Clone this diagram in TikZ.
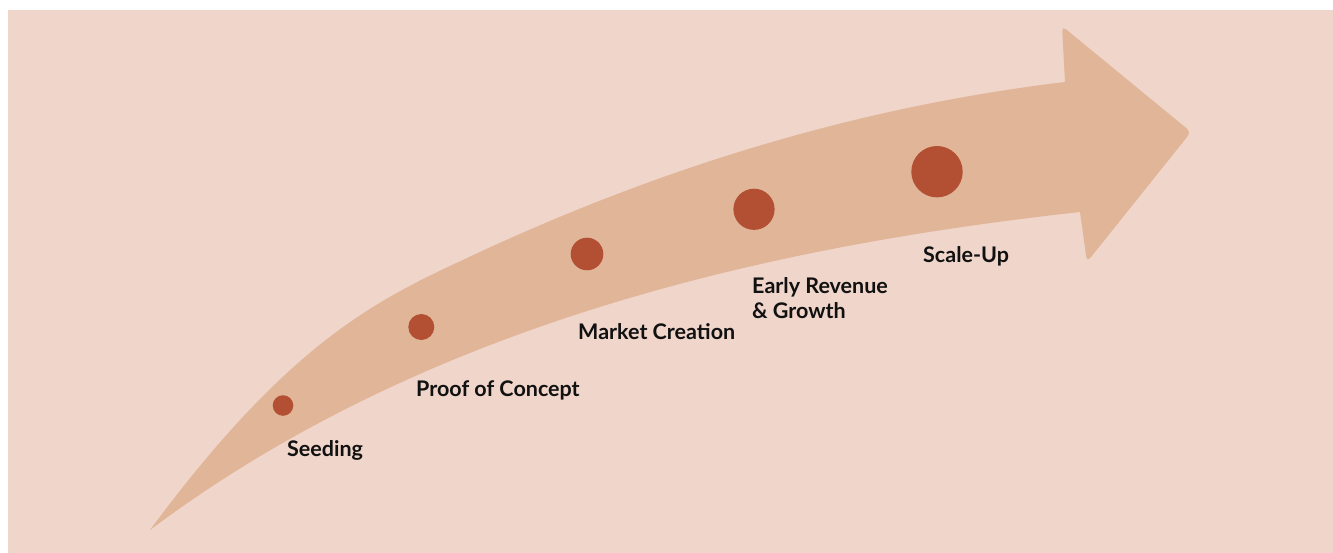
\documentclass[tikz,border=0pt]{standalone}
\usepackage{fontspec}
\setmainfont{Lato}
\definecolor{bgpink}{HTML}{F0D5CA}
\definecolor{arrowtan}{HTML}{E0B598}
\definecolor{dotred}{HTML}{B35033}
\definecolor{labelink}{HTML}{111111}
\tikzset{
  dot/.style={circle, fill=dotred, inner sep=0pt, minimum size=#1},
  stagelabel/.style={anchor=base west, inner sep=0pt, text=labelink, font=\fontsize{21.5}{25.5}\selectfont\bfseries, align=left},
}
\begin{document}
\begin{tikzpicture}[x=1pt,y=-1pt]
\useasboundingbox (0,0) rectangle (1333,553);
\fill[white] (0,0) rectangle (1333,553);
\fill[bgpink] (8,10) rectangle (1333,553);
% arrow body
\fill[arrowtan]
  (150,530) .. controls (290,341) and (377,300) .. (467,258)
  .. controls (667,164) and (865,106) .. (1065,82)
  [rounded corners=5pt] -- (1062,26) -- (1191,132) -- (1087,262) [sharp corners] -- (1080,212)
  .. controls (780,245) and (430,320) .. (150,530)
  -- cycle;
% dots
\node[dot=20.6pt] (c1) at (283,405.5) {};
\node[dot=26pt] (c2) at (421.3,327) {};
\node[dot=32.6pt] (c3) at (587,254) {};
\node[dot=41.2pt] (c4) at (754,209.3) {};
\node[dot=51.4pt] (c5) at (937,171.7) {};
% labels
\node[stagelabel] (t1) at (287,456) {Seeding};
\node[stagelabel] (t2) at (416,396) {Proof of Concept};
\node[stagelabel] (t3) at (578,339) {Market Creation};
\node[stagelabel] (t4) at (752,318.7) {Early Revenue\\\& Growth};
\node[stagelabel] (t5) at (923,263) {Scale-Up};
\end{tikzpicture}
\end{document}
